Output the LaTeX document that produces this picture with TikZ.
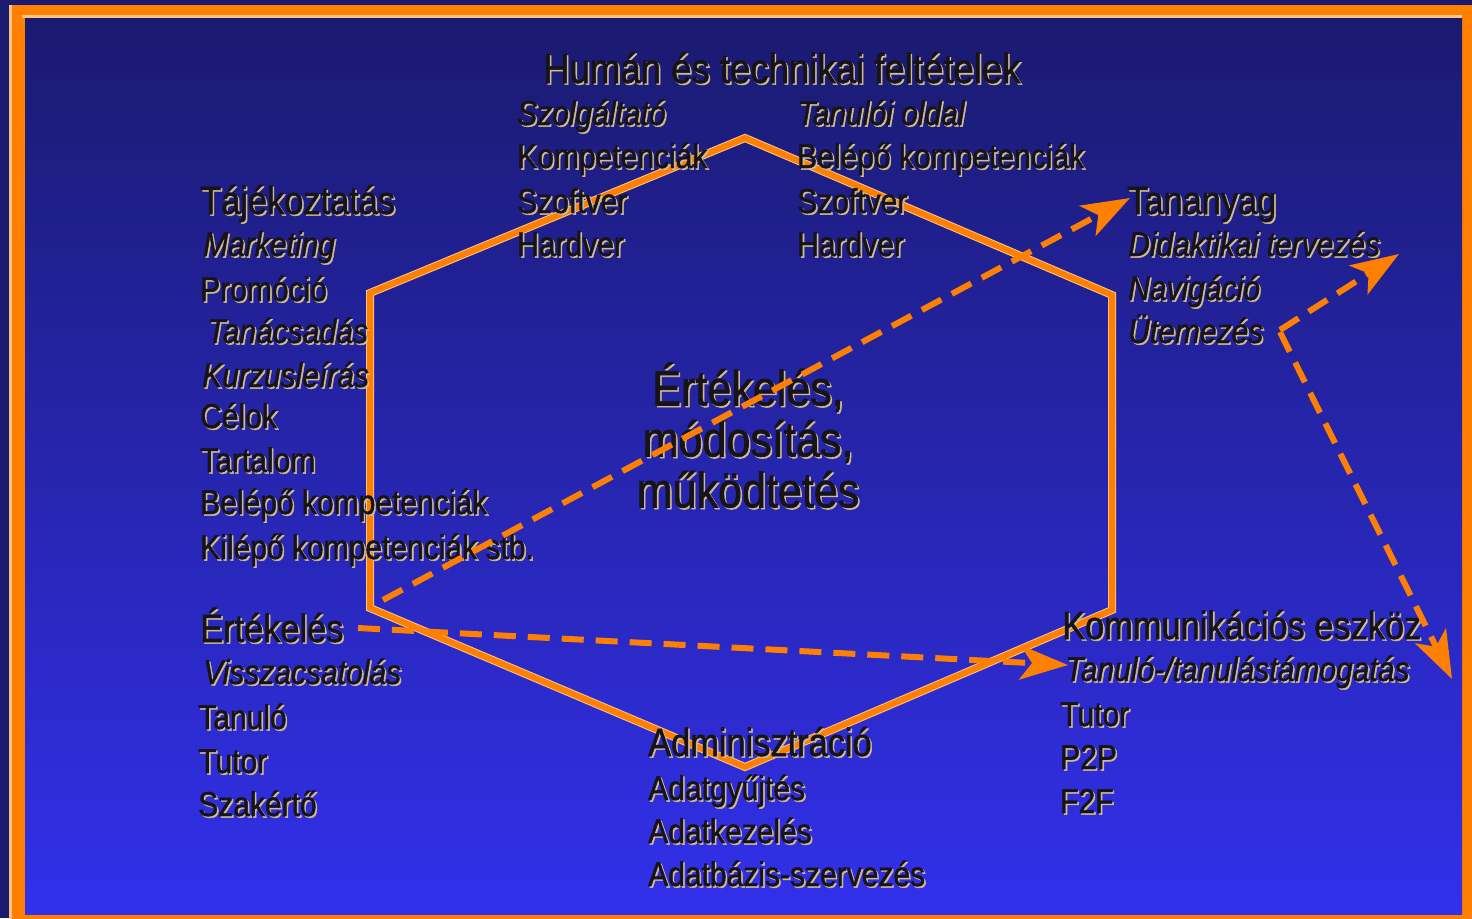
\documentclass[tikz,border=0pt]{standalone}
\usepackage{fontspec}
\setmainfont{Liberation Sans}[FakeStretch=0.87,FakeBold=1.3]
\usetikzlibrary{arrows.meta}
\definecolor{bgtop}{RGB}{26,26,112}
\definecolor{bgbot}{RGB}{50,48,235}
\definecolor{org}{RGB}{255,128,0}
\definecolor{peach}{RGB}{255,196,130}
\definecolor{hl}{RGB}{205,185,150}
\definecolor{ink}{RGB}{22,20,24}
\newcommand\emb[1]{\makebox[0pt][l]{\hspace{1.6pt}\raisebox{-1.6pt}{\color{hl}#1}}{\color{ink}#1}}
\begin{document}
\begin{tikzpicture}[x=1pt,y=-1pt,
  sub/.style={anchor=base west, inner sep=0pt, font=\fontsize{34.5}{40}\selectfont},
  subit/.style={anchor=base west, inner sep=0pt, font=\fontsize{34.5}{40}\selectfont\itshape},
  hd/.style={anchor=base west, inner sep=0pt, font=\fontsize{39.5}{46}\selectfont},
  ttl/.style={anchor=base west, inner sep=0pt, font=\fontsize{42}{48}\selectfont},
  ctr/.style={align=center, inner sep=0pt, font=\fontsize{49.5}{51}\selectfont},
  hexunder/.style={draw=peach, line width=8pt, line join=miter},
  hexover/.style={draw=org, line width=6pt, line join=miter},
  dar/.style={draw=org, line width=6pt, dash pattern=on 22pt off 12pt,
    -{Stealth[length=48pt,width=34pt,inset=12pt]}}]
\useasboundingbox (0,0) rectangle (1472,918);
% background and frame
\fill[bgtop] (0,0) rectangle (1472,918);
\fill[org] (9,5) rectangle (1490,935);
\fill[peach] (9,5) rectangle (12,935);
\shade[top color=bgtop, bottom color=bgbot] (25,18) rectangle (1462,914);
\fill[peach] (22,15) rectangle (1462,18);
% hexagon
\coordinate (hT) at (745,138);
\coordinate (hUR) at (1112,295);
\coordinate (hLR) at (1112,610);
\coordinate (hB) at (745,767);
\coordinate (hLL) at (370,608);
\coordinate (hUL) at (370,293);
\draw[hexunder] (hT) -- (hUR) -- (hLR) -- (hB) -- (hLL) -- (hUL) -- cycle;
\draw[hexover] (hT) -- (hUR) -- (hLR) -- (hB) -- (hLL) -- (hUL) -- cycle;
% top block
\node[ttl] (title) at (543,83) {\emb{Humán és technikai feltételek}};
\node[subit] (szolg) at (517,125) {\emb{Szolgáltató}};
\node[sub] (komp) at (517,168) {\emb{Kompetenciák}};
\node[sub] (szoft1) at (517,213) {\emb{Szoftver}};
\node[sub] (hard1) at (517,256) {\emb{Hardver}};
\node[subit] (tanoldal) at (797,125) {\emb{Tanulói oldal}};
\node[sub] (belep1) at (797,168) {\emb{Belépő kompetenciák}};
\node[sub] (szoft2) at (797,213) {\emb{Szoftver}};
\node[sub] (hard2) at (797,256) {\emb{Hardver}};
% left block
\node[hd] (taj) at (200,214) {\emb{Tájékoztatás}};
\node[subit] (mark) at (203,256) {\emb{Marketing}};
\node[sub] (prom) at (200,301) {\emb{Promóció}};
\node[subit] (tanacs) at (207,343) {\emb{Tanácsadás}};
\node[subit] (kurz) at (202,387) {\emb{Kurzusleírás}};
\node[sub] (celok) at (200,428) {\emb{Célok}};
\node[sub] (tart) at (200,472) {\emb{Tartalom}};
\node[sub] (belep2) at (200,514) {\emb{Belépő kompetenciák}};
\node[sub] (kilep) at (200,559) {\emb{Kilépő kompetenciák stb.}};
\node[hd] (ert) at (200,642) {\emb{Értékelés}};
\node[subit] (vissza) at (203,684) {\emb{Visszacsatolás}};
\node[sub] (tanulo) at (198,729) {\emb{Tanuló}};
\node[sub] (tutor1) at (198,773) {\emb{Tutor}};
\node[sub] (szak) at (198,816) {\emb{Szakértő}};
% bottom block
\node[hd] (admin) at (648,756) {\emb{Adminisztráció}};
\node[sub] (gyujt) at (648,800) {\emb{Adatgyűjtés}};
\node[sub] (kezel) at (648,843) {\emb{Adatkezelés}};
\node[sub] (adatb) at (648,886) {\emb{Adatbázis-szervezés}};
% right block
\node[hd] (tanany) at (1127,214) {\emb{Tananyag}};
\node[subit] (didak) at (1128,256) {\emb{Didaktikai tervezés}};
\node[subit] (navig) at (1128,300) {\emb{Navigáció}};
\node[subit] (utem) at (1128,343) {\emb{Ütemezés}};
\node[hd] (komm) at (1062,639) {\emb{Kommunikációs eszköz}};
\node[subit] (tamog) at (1065,681) {\emb{Tanuló-/tanulástámogatás}};
\node[sub] (tutor2) at (1060,726) {\emb{Tutor}};
\node[sub] (p2p) at (1060,769) {\emb{P2P}};
\node[sub] (f2f) at (1060,813) {\emb{F2F}};
% centre
\node[ctr] (center) at (748,436) {\emb{Értékelés,}\\\emb{módosítás,}\\\emb{működtetés}};
% dashed arrows
\coordinate (a1s) at (383,600);
\coordinate (a1e) at (1130,198);
\coordinate (a2s) at (358,628);
\coordinate (a2e) at (1068,665);
\coordinate (a3s) at (1280,330);
\coordinate (a3e) at (1399,254);
\coordinate (a4s) at (1280,332);
\coordinate (a4e) at (1452,679);
\draw[dar] (a1s) -- (a1e);
\draw[dar] (a2s) -- (a2e);
\draw[dar] (a3s) -- (a3e);
\draw[dar] (a4s) -- (a4e);
\end{tikzpicture}
\end{document}
